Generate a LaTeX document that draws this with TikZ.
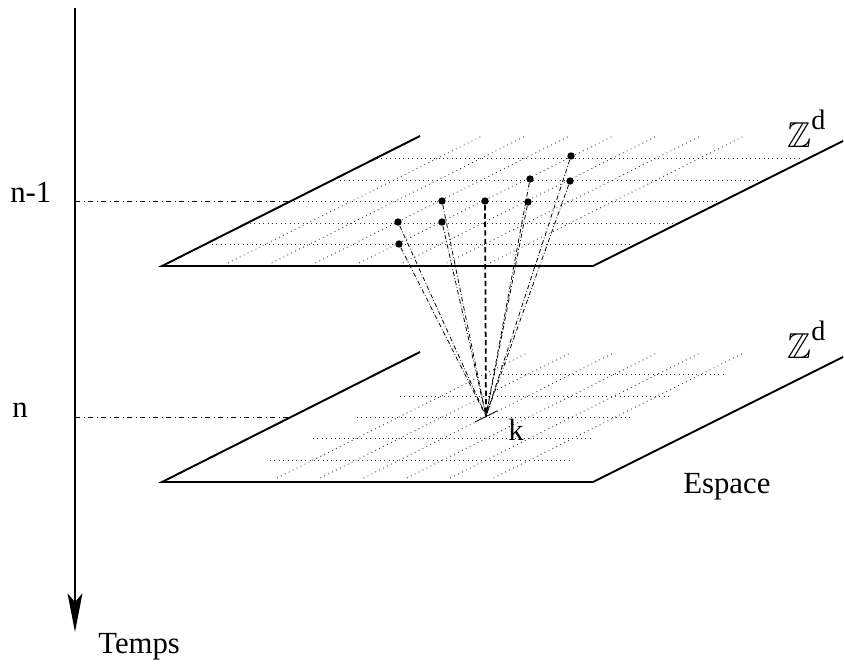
\documentclass[tikz,border=0pt]{standalone}
\usepackage{amssymb}
\usepackage{fontspec}
\setmainfont{Liberation Serif}
\usetikzlibrary{arrows.meta}
\tikzset{
  plane/.style={line width=1.1pt},
  lattice/.style={black!80, line width=0.5pt, dash pattern=on 0.5pt off 2pt},
  level/.style={line width=0.4pt, dash dot},
  ray/.style={line width=0.45pt, dash pattern=on 2.5pt off 1.2pt on 0.45pt off 1.2pt},
  site/.style={circle, fill, inner sep=0pt, minimum size=4.2pt},
  lbl/.style={font=\fontsize{17.5}{21}\selectfont, inner sep=0pt, anchor=base west},
}

\begin{document}
\begin{tikzpicture}[x=0.02cm, y=-0.02cm]
    \useasboundingbox (0,0) rectangle (844,666);
    % axe du temps
    \draw [thick, -{Stealth[length=22pt, width=8.5pt, inset=5pt]}] (75,8) -- (75,632);
    \node [lbl] (temps) at (98,653) {Temps};
    \node [lbl] (nm1) at (10,202) {n-1};
    \node [lbl] (n) at (12,417) {n};
    \draw [level] (75,201) -- (290,201);
    \draw [level] (75,417) -- (288,417);
    % reseau, instant n-1
    \foreach \y/\a/\b in {244/212/633, 223/250/677, 201/290/718, 180/340/763, 158/377/803}
        \draw [lattice] (\a,\y) -- (\b,\y);
    \foreach \i in {0,...,6}
        \draw [lattice] (228+43.7*\i,263) -- ++(254,-127);
    % reseau, instant n
    \foreach \y/\a/\b in {460/270/570, 438/313/590, 417/357/633, 396/400/672, 374/490/723}
        \draw [lattice] (\a,\y) -- (\b,\y);
    \foreach \i in {0,...,5}
        \draw [lattice] (277+43.3*\i,478) -- ++(250,-125);
    % plans
    \draw [plane] (420,136) -- (162,266) -- (593,266) -- (843,141);
    \draw [plane] (420,352) -- (162,482) -- (593,482) -- (843,357);
    \node [lbl] (zd1) at (787,147) {{\fontsize{20.5}{24}\selectfont$\mathbb{Z}$}\raisebox{10pt}{\fontsize{16}{18}\selectfont d}};
    \node [lbl] (zd2) at (787,358) {{\fontsize{20.5}{24}\selectfont$\mathbb{Z}$}\raisebox{10pt}{\fontsize{16}{18}\selectfont d}};
    \node [lbl] (espace) at (683,493) {Espace};
    % sites et liens
    \node [site] (a1) at (398,222) {};
    \node [site] (a2) at (399,244) {};
    \node [site] (b1) at (442,201) {};
    \node [site] (b2) at (442,222) {};
    \node [site] (c) at (485,201) {};
    \node [site] (d1) at (530,179) {};
    \node [site] (d2) at (528,202) {};
    \node [site] (e1) at (571,156) {};
    \node [site] (e2) at (570,181) {};
    \coordinate (k) at (486,416);
    \foreach \p in {a1,a2,b1,b2,d1,d2,e1,e2}
        \draw [ray] (\p) -- (k);
    \draw [line width=1pt, dash pattern=on 3pt off 1.8pt] (c) -- (k);
    \draw (k) ++(-11,6) -- ++(22,-11);
    \node [lbl] (klbl) at (508,440) {k};
\end{tikzpicture}
\end{document}
